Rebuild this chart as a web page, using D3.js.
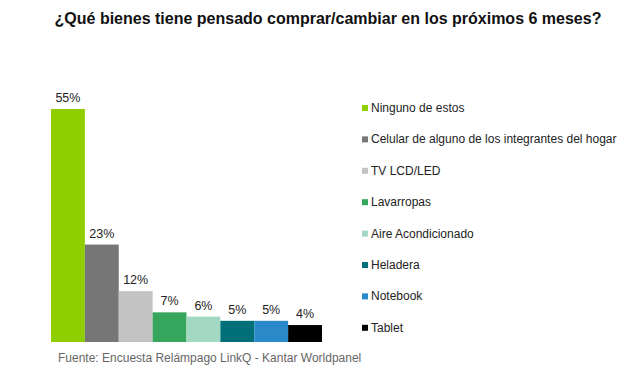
<!DOCTYPE html>
<html>
<head>
<meta charset="utf-8">
<script src="https://cdn.jsdelivr.net/npm/d3@7"></script>
<style>
  body { margin: 0; background: #fff; }
  text { font-family: "Liberation Sans", Arial, sans-serif; }
</style>
</head>
<body>
<script>
// datos
const categorias = ["Ninguno de estos", "Celular de alguno de los integrantes del hogar", "TV LCD/LED",
  "Lavarropas", "Aire Acondicionado", "Heladera", "Notebook", "Tablet"]
const valores = [55, 23, 12, 7, 6, 5, 5, 4]
const colores = ["#8fce00", "#767676", "#c3c3c3", "#36a65d", "#a3d9c3", "#006f78", "#2a89c8", "#000000"]

const W = 642, H = 377

let svg = d3.select("body").append("svg")
    .attr("width", W)
    .attr("height", H)

// titulo
svg.append("text")
    .attr("x", 328)
    .attr("y", 24)
    .attr("text-anchor", "middle")
    .style("font-size", "16px")
    .style("font-weight", "bold")
    .attr("fill", "#111")
    .text("¿Qué bienes tiene pensado comprar/cambiar en los próximos 6 meses?")

// escalas
let x = d3.scaleBand()
    .domain(categorias)
    .range([51, 322])
    .padding(0)

let y = d3.scaleLinear()
    .domain([0, 55])
    .range([342, 109])

// barras
svg.append("g")
    .selectAll("rect")
    .data(valores)
    .join("rect")
    .attr("x", (d, i) => x(categorias[i]))
    .attr("y", d => y(d))
    .attr("width", x.bandwidth())
    .attr("height", d => y(0) - y(d))
    .attr("fill", (d, i) => colores[i])

// etiquetas
svg.append("g")
    .selectAll("text")
    .data(valores)
    .join("text")
    .attr("x", (d, i) => x(categorias[i]) + x.bandwidth() / 2)
    .attr("y", d => y(d) - 7)
    .attr("text-anchor", "middle")
    .style("font-size", "12.5px")
    .attr("fill", "#222")
    .text(d => d + "%")

// leyenda
let leyenda = svg.append("g")
    .selectAll("g")
    .data(categorias)
    .join("g")
    .attr("transform", (d, i) => "translate(362," + (108 + i * 31.4) + ")")

leyenda.append("rect")
    .attr("x", 0)
    .attr("y", -3)
    .attr("width", 6)
    .attr("height", 6)
    .attr("fill", (d, i) => colores[i])

leyenda.append("text")
    .attr("x", 9)
    .attr("y", 4)
    .style("font-size", "12px")
    .attr("fill", "#222")
    .text(d => d)

// fuente
svg.append("text")
    .attr("x", 58)
    .attr("y", 362)
    .style("font-size", "12px")
    .attr("fill", "#666")
    .text("Fuente: Encuesta Relámpago LinkQ - Kantar Worldpanel")
</script>
</body>
</html>
